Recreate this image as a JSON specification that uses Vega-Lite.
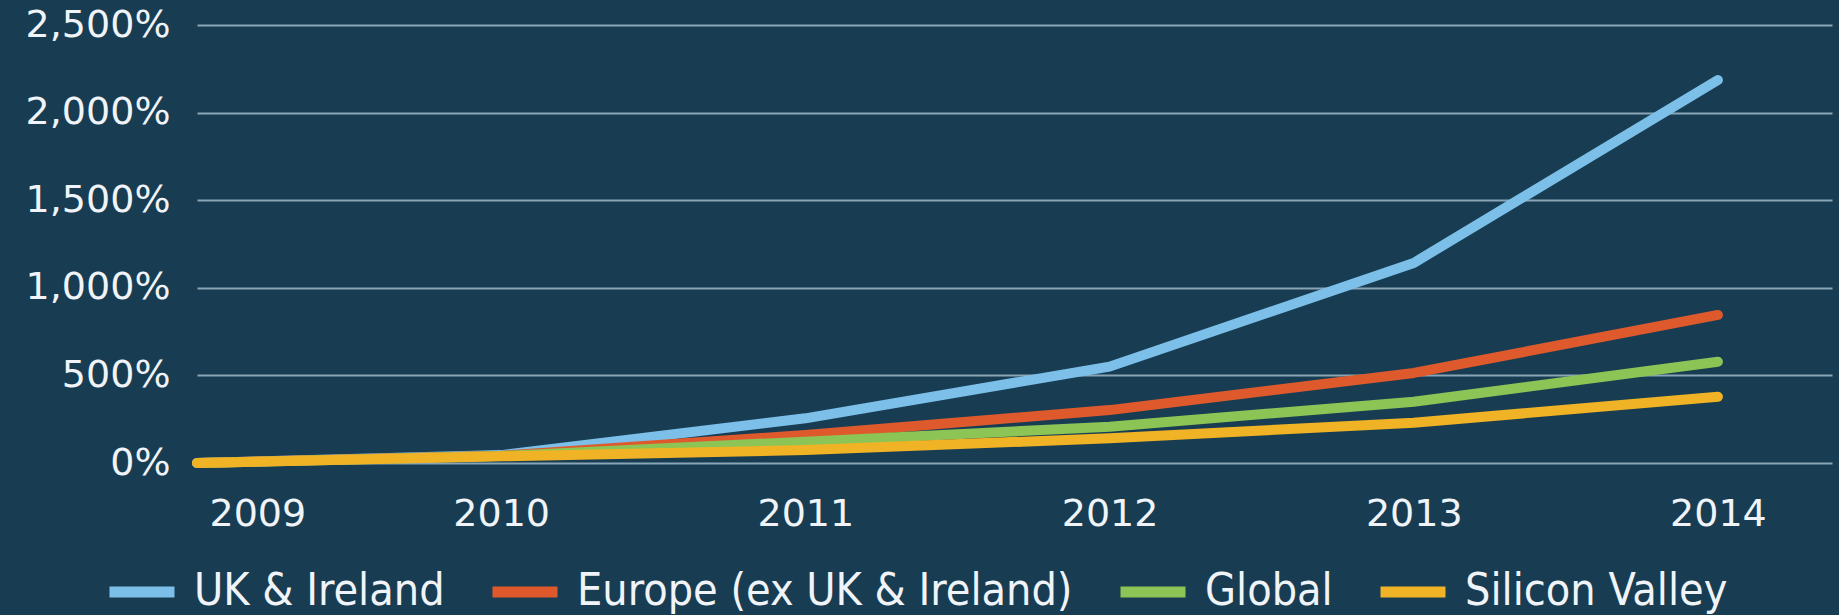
{
  "$schema": "https://vega.github.io/schema/vega-lite/v6.json",
  "autosize": {"type": "none"},
  "width": 1635,
  "height": 438,
  "padding": {"left": 197, "top": 25, "right": 7, "bottom": 152},
  "background": "#183d53",
  "config": {
    "view": {"stroke": null},
    "font": "DejaVu Sans"
  },
  "data": {
    "values": [
      {"year": 2009, "region": "UK & Ireland", "growth": 0},
      {"year": 2010, "region": "UK & Ireland", "growth": 45},
      {"year": 2011, "region": "UK & Ireland", "growth": 255},
      {"year": 2012, "region": "UK & Ireland", "growth": 550},
      {"year": 2013, "region": "UK & Ireland", "growth": 1142},
      {"year": 2014, "region": "UK & Ireland", "growth": 2186},
      {"year": 2009, "region": "Europe (ex UK & Ireland)", "growth": 0},
      {"year": 2010, "region": "Europe (ex UK & Ireland)", "growth": 42},
      {"year": 2011, "region": "Europe (ex UK & Ireland)", "growth": 160},
      {"year": 2012, "region": "Europe (ex UK & Ireland)", "growth": 302},
      {"year": 2013, "region": "Europe (ex UK & Ireland)", "growth": 514},
      {"year": 2014, "region": "Europe (ex UK & Ireland)", "growth": 845},
      {"year": 2009, "region": "Global", "growth": 0},
      {"year": 2010, "region": "Global", "growth": 40},
      {"year": 2011, "region": "Global", "growth": 122},
      {"year": 2012, "region": "Global", "growth": 207},
      {"year": 2013, "region": "Global", "growth": 350},
      {"year": 2014, "region": "Global", "growth": 578},
      {"year": 2009, "region": "Silicon Valley", "growth": 0},
      {"year": 2010, "region": "Silicon Valley", "growth": 38},
      {"year": 2011, "region": "Silicon Valley", "growth": 74},
      {"year": 2012, "region": "Silicon Valley", "growth": 141},
      {"year": 2013, "region": "Silicon Valley", "growth": 230},
      {"year": 2014, "region": "Silicon Valley", "growth": 378}
    ]
  },
  "mark": {"type": "line", "strokeWidth": 10, "strokeCap": "round", "strokeJoin": "round"},
  "encoding": {
    "x": {
      "field": "year",
      "type": "quantitative",
      "scale": {"domain": [2009, 2014.375], "nice": false, "zero": false},
      "axis": {
        "title": null,
        "values": [2009, 2010, 2011, 2012, 2013, 2014],
        "format": "d",
        "grid": false,
        "domain": false,
        "ticks": false,
        "tickSize": 0,
        "labelPadding": 32,
        "labelFontSize": 38,
        "labelColor": "#f0f4f8",
        "labelFlush": 10,
        "labelFlushOffset": -12
      }
    },
    "y": {
      "field": "growth",
      "type": "quantitative",
      "scale": {"domain": [0, 2500], "nice": false},
      "axis": {
        "title": null,
        "values": [0, 500, 1000, 1500, 2000, 2500],
        "labelExpr": "format(datum.value, ',') + '%'",
        "domain": false,
        "ticks": false,
        "tickSize": 0,
        "labelPadding": 27,
        "labelFontSize": 38,
        "labelColor": "#f0f4f8",
        "grid": true,
        "gridColor": "#8aa5b5",
        "gridWidth": 2,
        "gridOpacity": 1
      }
    },
    "color": {
      "field": "region",
      "type": "nominal",
      "sort": ["UK & Ireland", "Europe (ex UK & Ireland)", "Global", "Silicon Valley"],
      "scale": {
        "domain": ["UK & Ireland", "Europe (ex UK & Ireland)", "Global", "Silicon Valley"],
        "range": ["#7cc0ea", "#de5a2c", "#8cc456", "#f0b325"]
      },
      "legend": {
        "title": null,
        "orient": "none",
        "direction": "horizontal",
        "legendX": -93,
        "legendY": 529,
        "symbolType": "stroke",
        "symbolSize": 4225,
        "symbolStrokeWidth": 11,
        "labelFont": "'DejaVu Sans Condensed', 'Liberation Sans Narrow', 'DejaVu Sans'",
        "labelFontSize": 44.5,
        "labelColor": "#f0f4f8",
        "labelOffset": 14,
        "columnPadding": 25,
        "labelLimit": 1000
      }
    }
  }
}
